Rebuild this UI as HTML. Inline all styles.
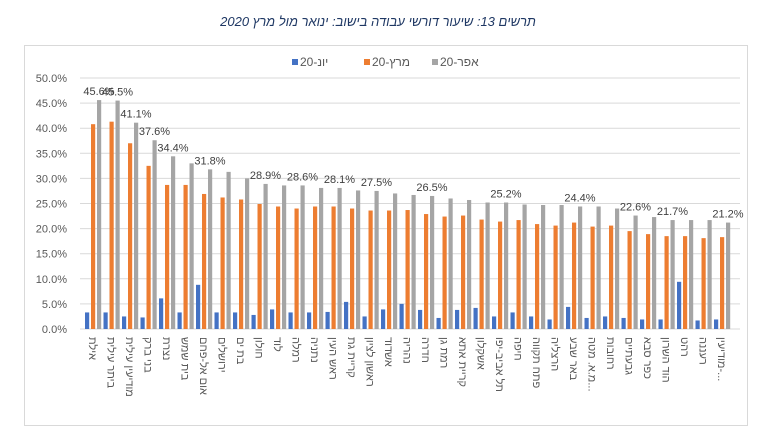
<!DOCTYPE html>
<html><head><meta charset="utf-8"><style>
body{margin:0;background:#fff;}
svg{display:block;font-family:"Liberation Sans","Noto Sans CJK JP",sans-serif;}
</style></head><body>
<svg id="s" width="758" height="436" xmlns="http://www.w3.org/2000/svg">
<rect x="0" y="0" width="758" height="436" fill="#fff"/>
<text x="378" y="26" text-anchor="middle" font-size="13" font-style="italic" fill="#1f3864" direction="rtl">תרשים 13: שיעור דורשי עבודה בישוב: ינואר מול מרץ 2020</text>
<rect x="24.5" y="45.5" width="723" height="380" fill="none" stroke="#d9d9d9"/>
<g id="g"></g>
</svg>
<script>
var g=document.getElementById('g'),h='';
var y0=329,k=5.02,x0=93,st=18.5;
for(var i=0;i<=10;i++){var y=y0-i*5*k;h+='<line x1="80" x2="740" y1="'+y+'" y2="'+y+'" stroke="#d9d9d9"/>';
h+='<text x="67" y="'+(y+4)+'" text-anchor="end" font-size="11" fill="#595959">'+(i*5).toFixed(1)+'%</text>';}
var names=["אילת","ביתר עילית","מודיעין עילית","בני ברק","נצרת","בית שמש","אום אל-פחם","ירושלים","בת ים","חולון","לוד","רמלה","נתניה","ראש העין","קריית גת","ראשון לציון","אשדוד","נהריה","חדרה","רמת גן","קריית אתא","אשקלון","תל אביב-יפו","חיפה","פתח תקווה","הרצליה","באר שבע","מ.א. מטה...","רחובות","גבעתיים","כפר סבא","הוד השרון","רהט","רעננה","מודיעין-..."];
var A=[45.6,45.5,41.1,37.6,34.4,33.0,31.8,31.3,30.0,28.9,28.6,28.6,28.1,28.1,27.6,27.5,27.0,26.7,26.5,26.0,25.7,25.2,25.2,24.8,24.7,24.7,24.4,24.4,24.0,22.6,22.3,21.7,21.7,21.7,21.2];
var M=[40.8,41.3,37.0,32.5,28.7,28.7,26.9,26.2,25.8,24.9,24.4,24.0,24.4,24.4,24.0,23.6,23.6,23.7,22.9,22.4,22.6,21.8,21.4,21.7,20.9,20.6,21.2,20.4,20.6,19.5,18.9,18.5,18.5,18.1,18.3];
var J=[3.3,3.3,2.5,2.3,6.1,3.3,8.8,3.3,3.3,2.8,3.9,3.3,3.3,3.4,5.4,2.5,3.9,5.0,3.8,2.2,3.8,4.2,2.5,3.3,2.5,1.9,4.4,2.2,2.5,2.2,1.9,1.9,9.4,1.7,1.9];
var lab=[0,1,2,3,4,6,9,11,13,15,18,22,26,29,31,34];
for(var i=0;i<35;i++){var c=x0+i*st;
function bar(x,v,col){return '<rect x="'+(x-2)+'" y="'+(y0-v*k)+'" width="4.2" height="'+(v*k)+'" fill="'+col+'"/>';}
h+=bar(c-6,J[i],'#4472c4')+bar(c,M[i],'#ed7d31')+bar(c+6,A[i],'#a5a5a5');
if(lab.indexOf(i)>=0)h+='<text x="'+(c+6)+'" y="'+(y0-A[i]*k-5)+'" text-anchor="middle" font-size="11" fill="#404040">'+A[i].toFixed(1)+'%</text>';
h+='<text transform="translate('+(c-4)+',337) rotate(90)" font-size="11" fill="#595959">'+names[i]+'</text>';}
h+='<rect x="292" y="59" width="6" height="6" fill="#4472c4"/><text x="300" y="66" font-size="12" fill="#595959">20-יונ</text>';
h+='<rect x="364" y="59" width="6" height="6" fill="#ed7d31"/><text x="372" y="66" font-size="12" fill="#595959">20-מרץ</text>';
h+='<rect x="432" y="59" width="6" height="6" fill="#a5a5a5"/><text x="440" y="66" font-size="12" fill="#595959">20-אפר</text>';
g.innerHTML=h;
</script>
</body></html>
